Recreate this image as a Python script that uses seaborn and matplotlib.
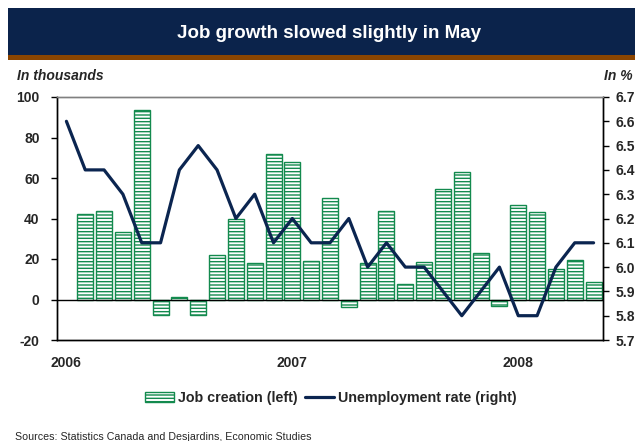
import numpy as np
import pandas as pd
import matplotlib
matplotlib.use("Agg")
import matplotlib.pyplot as plt
import seaborn as sns
from matplotlib.patches import Patch, Rectangle
from matplotlib.lines import Line2D

# Monthly data, Jan 2006 - May 2008
months = pd.date_range("2006-01-01", "2008-05-01", freq="MS")
job_creation = [np.nan, 42, 43.5, 33.5, 93.5, -7.7, 1.2, -7.7, 22, 40, 18, 72,
                68, 19, 50, -3.5, 18, 43.5, 7.5, 18.5, 54.5, 63, 23, -3,
                46.5, 43, 15, 19.5, 8.5]
unemployment = [6.6, 6.4, 6.4, 6.3, 6.1, 6.1, 6.4, 6.5, 6.4, 6.2, 6.3, 6.1,
                6.2, 6.1, 6.1, 6.2, 6.0, 6.1, 6.0, 6.0, 5.9, 5.8, 5.9, 6.0,
                5.8, 5.8, 6.0, 6.1, 6.1]
year_labels = ["2006", "2007", "2008"]

df = pd.DataFrame({"month": months, "pos": np.arange(len(months)),
                   "jobs": job_creation, "rate": unemployment})

navy = "#0b234b"
brown = "#8b4500"
green = "#138a4e"
line_col = "#0b2550"

sns.set_style("white")
plt.rcParams["font.family"] = ["Liberation Sans", "DejaVu Sans"]
plt.rcParams["hatch.linewidth"] = 1.0
plt.rcParams["axes.unicode_minus"] = False

W, H = 635, 441
fig = plt.figure(figsize=(W / 100, H / 100), dpi=100)

# title banner
fig.patches.append(Rectangle((8 / W, 1 - 55 / H), 1, 47 / H, transform=fig.transFigure,
                             facecolor=navy, edgecolor="none"))
fig.patches.append(Rectangle((8 / W, 1 - 60 / H), 1, 5 / H, transform=fig.transFigure,
                             facecolor=brown, edgecolor="none"))
fig.text(329 / W, 1 - 33 / H, "Job growth slowed slightly in May", color="white",
         fontsize=13.5, fontweight="bold", ha="center", va="center")

ax = fig.add_axes([57 / W, 1 - 340 / H, (603 - 57) / W, (340 - 97) / H])

sns.barplot(data=df, x="pos", y="jobs", order=list(range(len(months))), ax=ax,
            color="white", edgecolor=green, linewidth=1, hatch="-----",
            width=0.85, errorbar=None, saturation=1)
for p in ax.patches:
    p.set_edgecolor(green)
    p.set_hatch("-----")

ax.axhline(0, color="black", lw=1, zorder=3)
ax.set_ylim(-20, 100)
ax.set_yticks(range(-20, 101, 20))
ax.set_xlim(-0.5, len(months) - 0.5)
ax.set_xticks([0, 12, 24])
ax.set_xticklabels(year_labels)
ax.set_xlabel("")
ax.set_ylabel("")
ax.tick_params(axis="x", length=0, pad=11.5, labelsize=10)
ax.tick_params(axis="y", left=True, length=4, width=1, pad=8.5, labelsize=10, color="black")
for lab in ax.get_xticklabels() + ax.get_yticklabels():
    lab.set_fontweight("bold")

ax2 = ax.twinx()
sns.lineplot(data=df, x="pos", y="rate", ax=ax2, color=line_col, linewidth=2.3)
ax2.set_ylim(5.7, 6.7)
ax2.set_yticks(np.round(np.arange(5.7, 6.71, 0.1), 1))
ax2.set_yticklabels([f"{v:.1f}" for v in np.arange(5.7, 6.71, 0.1)])
ax2.set_ylabel("")
ax2.tick_params(axis="y", right=True, length=4, width=1, pad=5, labelsize=10, color="black")
for lab in ax2.get_yticklabels():
    lab.set_fontweight("bold")

for a in (ax, ax2):
    for s in a.spines.values():
        s.set_color("black")
        s.set_linewidth(1)
    a.spines["top"].set_color("#808080")

fig.text(17 / W, 1 - 76 / H, "In thousands", fontsize=10, fontweight="bold",
         fontstyle="italic", va="center", ha="left")
fig.text(633 / W, 1 - 76 / H, "In %", fontsize=10, fontweight="bold",
         fontstyle="italic", va="center", ha="right")

handles = [Patch(facecolor="white", edgecolor=green, hatch="-----"),
           Line2D([], [], color=line_col, lw=2.3)]
fig.legend(handles, ["Job creation (left)", "Unemployment rate (right)"],
           loc="center", bbox_to_anchor=(331 / W, 1 - 398 / H), ncol=2, frameon=False,
           prop={"weight": "bold", "size": 10.3}, handlelength=2.0, handletextpad=0.3,
           columnspacing=0.5)

fig.text(15 / W, 1 - 437 / H, "Sources: Statistics Canada and Desjardins, Economic Studies",
         fontsize=7.7, va="center", ha="left")

fig.savefig("out.png", dpi=100)
